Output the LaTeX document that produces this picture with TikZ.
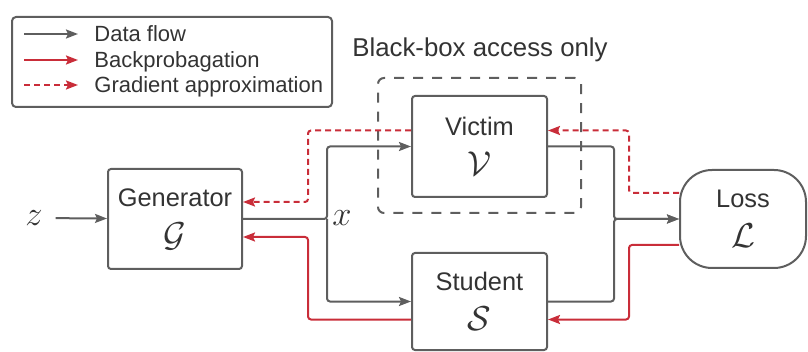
\documentclass[tikz,border=0pt]{standalone}
\usepackage{fontspec}
\setmainfont{Liberation Sans}
\usetikzlibrary{arrows.meta}
\definecolor{lgray}{HTML}{5E5E5E}
\definecolor{ltext}{HTML}{333333}
\definecolor{lred}{HTML}{C92D39}
\newcommand{\calsym}[1]{{\fontsize{16}{20}\selectfont$\mathcal{#1}$}}
\begin{document}
\begin{tikzpicture}[x=0.5pt, y=-0.5pt,
  block/.style={draw=lgray, line width=1pt, rounded corners=1.5pt, align=center, text=ltext, font=\fontsize{12.7}{20}\selectfont},
  flow/.style={draw=lgray, line width=1pt, rounded corners=1.5pt, -{Stealth[length=6pt,width=4.5pt,inset=1pt]}},
  backprop/.style={flow, draw=lred},
  gradapprox/.style={backprop, dash pattern=on 3pt off 2pt},
  mathlbl/.style={text=ltext, font=\fontsize{19}{22}\selectfont},
  legtext/.style={anchor=west, inner xsep=8pt, text height=7.9pt, text depth=0pt, text=ltext, font=\fontsize{11}{13}\selectfont}]
\useasboundingbox (0,0) rectangle (808,352);
\node[draw=lgray, line width=1pt, rounded corners=2pt, minimum width=160pt, minimum height=45pt] (legend) at (172,62) {};
\coordinate (lflowstart) at (24,34);
\node[legtext] (lflow) at (78,34) {Data flow};
\coordinate (lbackstart) at (24,60);
\node[legtext] (lback) at (78,60) {Backprobagation};
\coordinate (lgradstart) at (24,85);
\node[legtext] (lgrad) at (78,85) {Gradient approximation};
\draw[flow] (lflowstart) -- (lflow.west);
\draw[backprop] (lbackstart) -- (lback.west);
\draw[gradapprox] (lgradstart) -- (lgrad.west);
\node[text=ltext, font=\fontsize{12.9}{15}\selectfont] (bbtitle) at (480,50) {Black-box access only};
\node[draw=lgray, line width=1pt, rounded corners=3pt, dash pattern=on 5pt off 4.5pt, minimum width=101.5pt, minimum height=67.5pt] (blackbox) at (479.5,145.5) {};
\node[block, minimum width=67pt, minimum height=50pt] (gen) at (175,219) {Generator\\ \calsym{G}};
\node[block, minimum width=67.5pt, minimum height=50.5pt] (victim) at (479.5,146.5) {Victim\\ \calsym{V}};
\node[block, minimum width=67.5pt, minimum height=48.5pt] (student) at (479.5,301.5) {Student\\ \calsym{S}};
\node[block, rounded corners=16pt, minimum width=63pt, minimum height=49pt] (loss) at (743,219) {Loss\\ \calsym{L}};
\node[mathlbl] (z) at (34,218) {$z$};
\node[mathlbl] (xlbl) at (342,218) {$x$};
\draw[flow, shorten <=3pt] (z) -- (gen);
\draw[flow] (gen.east) -- ++(84,0) coordinate (split) |- (victim.west);
\draw[flow] (split) |- (student.west);
\draw[flow] (victim.east) -- ++(66,0) |- (loss.west);
\draw[flow] (student.east) -- ++(66,0) |- (loss.west);
\draw[gradapprox] ([yshift=13pt]loss.west) -- ++(-50,0) |- ([yshift=8pt]victim.east);
\draw[gradapprox] ([yshift=8pt]victim.west) -- ++(-103,0) |- ([yshift=8.5pt]gen.east);
\draw[backprop] ([yshift=-13pt]loss.west) -- ++(-50,0) |- ([yshift=-9pt]student.east);
\draw[backprop] ([yshift=-9pt]student.west) -- ++(-103,0) |- ([yshift=-9pt]gen.east);
\end{tikzpicture}
\end{document}
